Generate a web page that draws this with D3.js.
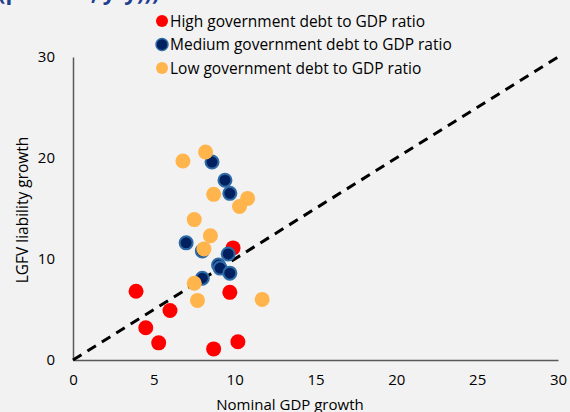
<!DOCTYPE html>
<html>
<head>
<meta charset="utf-8">
<script src="https://cdn.jsdelivr.net/npm/d3@7"></script>
<style>
  body { margin: 0; background: #f2f2f2; }
  svg { display: block; font-family: "Open Sans", "Liberation Sans", sans-serif; }
</style>
</head>
<body>
<div id="chart"></div>
<script>
// Data (x = nominal GDP growth, y = LGFV liability growth)
var highX = [3.9, 6.0, 4.5, 5.3, 8.7, 10.2, 9.7, 9.9];
var highY = [6.8, 4.9, 3.2, 1.7, 1.1, 1.8, 6.7, 11.1];

var mediumX = [8.6, 9.4, 9.7, 7.0, 8.0, 9.6, 9.0, 9.1, 9.7, 8.0];
var mediumY = [19.6, 17.8, 16.5, 11.6, 10.8, 10.5, 9.4, 9.1, 8.6, 8.1];

var lowX = [6.8, 8.2, 8.7, 10.8, 10.3, 7.5, 8.5, 8.1, 7.5, 7.7, 11.7];
var lowY = [19.7, 20.6, 16.4, 16.0, 15.2, 13.9, 12.3, 11.0, 7.6, 5.9, 6.0];

var xTicks = [0, 5, 10, 15, 20, 25, 30];
var yTicks = [0, 10, 20, 30];

var legendLabels = [
    "High government debt to GDP ratio",
    "Medium government debt to GDP ratio",
    "Low government debt to GDP ratio"
];

var width = 570, height = 412;
var margin = {top: 57, right: 12, bottom: 52, left: 73};

var svg = d3.select("#chart").append("svg")
    .attr("width", width)
    .attr("height", height);

svg.append("rect")
    .attr("width", width).attr("height", height)
    .attr("fill", "#f2f2f2");

// title line, mostly cut off by the top edge as in the reference
svg.append("text")
    .attr("x", -2).attr("y", 0)
    .attr("fill", "#1f3f8f")
    .attr("font-size", 22)
    .attr("font-weight", "bold")
    .text("(percent, y/y)))");

var x = d3.scaleLinear().domain([0, 30]).range([margin.left, width - margin.right]);
var y = d3.scaleLinear().domain([0, 30]).range([height - margin.bottom, margin.top]);

// axes
var xAxis = svg.append("g")
    .attr("transform", "translate(0," + y(0) + ")")
    .call(d3.axisBottom(x).tickValues(xTicks).tickSize(0).tickPadding(14));
var yAxis = svg.append("g")
    .attr("transform", "translate(" + x(0) + ",0)")
    .call(d3.axisLeft(y).tickValues(yTicks).tickSize(0).tickPadding(18));

[xAxis, yAxis].forEach(function(g) {
    g.select(".domain").attr("stroke", "#595959").attr("stroke-width", 1.5);
    g.selectAll("text").attr("font-size", 15).attr("fill", "#000")
        .attr("font-family", "Open Sans, sans-serif");
});

// axis titles
svg.append("text")
    .attr("x", 290).attr("y", 410)
    .attr("text-anchor", "middle")
    .attr("font-size", 15)
    .text("Nominal GDP growth");

svg.append("text")
    .attr("transform", "translate(28,210) rotate(-90)")
    .attr("text-anchor", "middle")
    .attr("font-size", 15.5)
    .text("LGFV liability growth");

// 45 degree line
svg.append("line")
    .attr("x1", x(0)).attr("y1", y(0))
    .attr("x2", x(30)).attr("y2", y(30))
    .attr("stroke", "#000")
    .attr("stroke-width", 3)
    .attr("stroke-dasharray", "10,7");

function dots(xs, ys, fill, stroke) {
    svg.append("g").selectAll("circle")
        .data(xs.map(function(d, i) { return [d, ys[i]]; }))
        .enter().append("circle")
        .attr("cx", function(d) { return x(d[0]); })
        .attr("cy", function(d) { return y(d[1]); })
        .attr("r", stroke ? 6.5 : 7.5)
        .attr("fill", fill)
        .attr("stroke", stroke || "none")
        .attr("stroke-width", stroke ? 2 : 0);
}

dots(highX, highY, "#ff0000");
dots(mediumX, mediumY, "#002060", "#2e6aa6");
dots(lowX, lowY, "#ffb54c");

// legend
var legendColors = ["#ff0000", "#002060", "#ffb54c"];
var legend = svg.append("g");
legendLabels.forEach(function(label, i) {
    var ly = 21 + i * 23.5;
    legend.append("circle")
        .attr("cx", 162).attr("cy", ly)
        .attr("r", 6)
        .attr("fill", legendColors[i])
        .attr("stroke", i === 1 ? "#2e6aa6" : "none")
        .attr("stroke-width", 1.5);
    legend.append("text")
        .attr("x", 170).attr("y", ly + 5.5)
        .attr("font-size", 15.5)
        .text(label);
});
</script>
</body>
</html>
